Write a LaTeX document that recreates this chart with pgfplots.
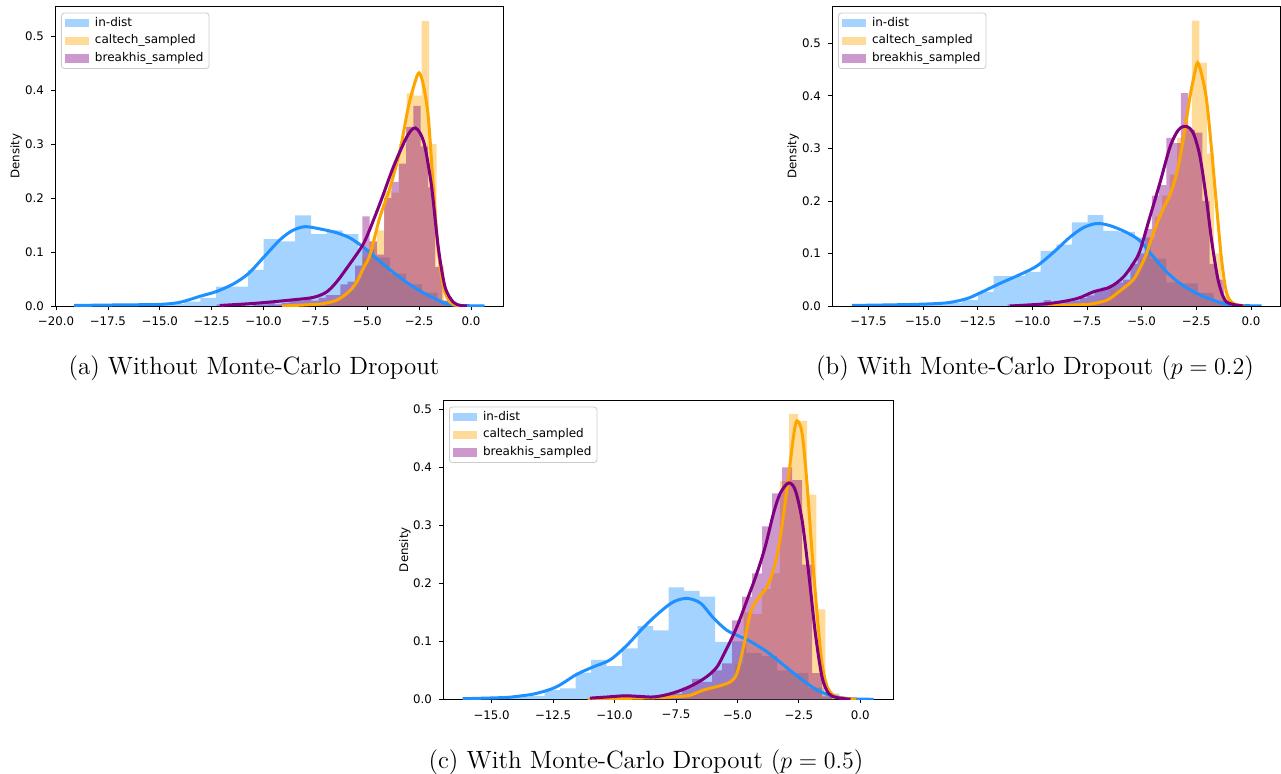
\documentclass[border=0pt]{standalone}
\usepackage{fontspec}
\usepackage{pgfplots}
\pgfplotsset{compat=1.18}
\newfontfamily\dejavu{DejaVu Sans}
\definecolor{dblue}{RGB}{30,144,255}
\definecolor{orng}{RGB}{255,165,0}
\definecolor{purp}{RGB}{128,0,128}
\newcommand{\mplfont}{\dejavu\fontsize{5.9}{7}\selectfont}
\newcommand{\legfont}{\dejavu\fontsize{6.0}{7}\selectfont}
\newcommand{\capfont}{\fontsize{12.5}{14}\selectfont}

\pgfplotsset{
  hist/.style={ybar interval, fill=#1, draw=none, fill opacity=0.4,
    legend image code/.code={\fill[#1, fill opacity=0.4, sharp corners] (0pt,-2.1pt) rectangle (12pt,2.1pt);
      \path (14pt,0pt);}},
  kde/.style={color=#1, line width=1.5pt, smooth, mark=none, forget plot},
  distaxis/.style={
    scale only axis, anchor=north west, ymin=0,
    axis line style={line width=0.4pt},
    tick align=outside, tick pos=left, major tick length=2pt,
    every tick/.style={black, line width=0.4pt},
    ytick={0,0.1,0.2,0.3,0.4,0.5},
    yticklabels={0.0,0.1,0.2,0.3,0.4,0.5},
    tick label style={font=\mplfont},
    ylabel={Density}, ylabel style={font=\mplfont, anchor=center},
    legend cell align=left,
    legend style={at={(0,1)}, anchor=north west, xshift=3pt, yshift=-3.3pt,
      draw=black!20, rounded corners=1.5pt, fill=white, font=\legfont,
      inner xsep=2pt, inner ysep=1.2pt, row sep=1.2pt,
      nodes={inner sep=0.8pt}},
  },
}

\begin{document}
\begin{tikzpicture}

% ---- (a) without MC dropout ----
\begin{axis}[distaxis, at={(27.5pt,-3pt)}, width=224pt, height=150pt,
  xmin=-20.05, xmax=1.54, ymax=0.556,
  xtick={-20,-17.5,-15,-12.5,-10,-7.5,-5,-2.5,0},
  xticklabels={−20.0,−17.5,−15.0,−12.5,−10.0,−7.5,−5.0,−2.5,0.0},
  ylabel style={at={(axis description cs:-0.087,0.5)}}]
\addplot[hist=dblue] coordinates {
  (-19.15,0.001) (-18.39,0) (-17.625,0.001) (-16.86,0.001) (-16.10,0.001)
  (-15.34,0.002) (-14.575,0.004) (-13.81,0.008) (-13.05,0.015) (-12.29,0.036)
  (-11.525,0.036) (-10.76,0.067) (-10.0,0.124) (-9.24,0.12) (-8.475,0.168)
  (-7.71,0.133) (-6.95,0.14) (-6.19,0.133) (-5.425,0.105) (-4.66,0.09)
  (-3.90,0.06) (-3.14,0.04) (-2.375,0.025) (-1.61,0.01) (-0.85,0.003)
  (-0.09,0.002) (0.675,0)};
\addlegendentry{in-dist}
\addplot[hist=orng] coordinates {
  (-9.22,0.003) (-8.86,0) (-8.50,0) (-8.14,0.003) (-7.78,0.003) (-7.42,0)
  (-7.06,0.006) (-6.70,0.01) (-6.34,0.02) (-5.98,0.03) (-5.62,0.05)
  (-5.26,0.09) (-4.90,0.12) (-4.54,0.14) (-4.18,0.213) (-3.82,0.21)
  (-3.46,0.30) (-3.10,0.394) (-2.74,0.39) (-2.38,0.528) (-2.02,0.30)
  (-1.66,0.075) (-1.30,0.005) (-0.94,0)};
\addlegendentry{caltech\_sampled}
\addplot[hist=purp] coordinates {
  (-12.26,0.003) (-11.909,0) (-11.558,0) (-11.207,0.003) (-10.856,0)
  (-10.505,0.003) (-10.154,0.003) (-9.803,0.006) (-9.452,0.003) (-9.101,0.006)
  (-8.75,0.01) (-8.399,0.01) (-8.048,0.015) (-7.697,0.01) (-7.346,0.015)
  (-6.995,0.02) (-6.644,0.02) (-6.293,0.04) (-5.942,0.045) (-5.591,0.075)
  (-5.24,0.166) (-4.889,0.12) (-4.538,0.095) (-4.187,0.20) (-3.836,0.23)
  (-3.485,0.264) (-3.134,0.332) (-2.783,0.371) (-2.432,0.296) (-2.081,0.22)
  (-1.73,0.072) (-1.379,0.01) (-1.028,0.002) (-0.677,0)};
\addlegendentry{breakhis\_sampled}
\addplot[kde=dblue] coordinates {
  (-19.13,0.001) (-17,0.002) (-14.99,0.003) (-14.02,0.007) (-13.06,0.018)
  (-12.26,0.027) (-11.45,0.041) (-10.73,0.06) (-10.0,0.09) (-9.2,0.123)
  (-8.6,0.14) (-8.0,0.147) (-7.3,0.143) (-6.5,0.136) (-5.83,0.126)
  (-5.19,0.109) (-4.55,0.088) (-3.9,0.067) (-3.18,0.046) (-2.46,0.028)
  (-1.82,0.015) (-1.17,0.004) (-0.53,0.001) (0.64,0)};
\addplot[kde=orng] coordinates {
  (-9.1,0) (-8.0,0.002) (-7.2,0.004) (-6.6,0.009) (-6.2,0.017) (-5.8,0.03)
  (-5.5,0.045) (-5.19,0.07) (-4.87,0.095) (-4.39,0.165) (-3.9,0.22)
  (-3.42,0.289) (-3.02,0.369) (-2.7,0.415) (-2.5,0.432) (-2.3,0.41)
  (-2.06,0.35) (-1.82,0.221) (-1.58,0.103) (-1.33,0.035) (-1.01,0.007)
  (-0.7,0.001) (-0.5,0)};
\addplot[kde=purp] coordinates {
  (-12.1,0.001) (-10.4,0.005) (-8.7,0.011) (-7.6,0.016) (-6.96,0.026)
  (-6.47,0.045) (-5.99,0.07) (-5.35,0.105) (-5.03,0.128) (-4.39,0.19)
  (-3.74,0.258) (-3.18,0.307) (-2.9,0.325) (-2.68,0.33) (-2.45,0.32)
  (-2.22,0.295) (-1.9,0.221) (-1.58,0.109) (-1.25,0.035) (-0.85,0.007)
  (-0.5,0.001) (-0.2,0)};
\end{axis}

% ---- (b) MC dropout p=0.2 ----
\begin{axis}[distaxis, at={(416pt,-3pt)}, width=224pt, height=150pt,
  xmin=-19.17, xmax=1.33, ymax=0.571,
  xtick={-17.5,-15,-12.5,-10,-7.5,-5,-2.5,0},
  xticklabels={−17.5,−15.0,−12.5,−10.0,−7.5,−5.0,−2.5,0.0},
  ylabel style={at={(axis description cs:-0.087,0.5)}}]
\addplot[hist=dblue] coordinates {
  (-18.26,0.001) (-17.54,0.001) (-16.82,0.001) (-16.10,0.001) (-15.38,0.002)
  (-14.66,0.003) (-13.94,0.006) (-13.22,0.011) (-12.50,0.027) (-11.78,0.057)
  (-11.06,0.057) (-10.34,0.065) (-9.62,0.105) (-8.90,0.117) (-8.19,0.159)
  (-7.47,0.173) (-6.75,0.143) (-6.03,0.141) (-5.31,0.13) (-4.59,0.09)
  (-3.87,0.045) (-3.15,0.043) (-2.43,0.025) (-1.71,0.01) (-0.99,0.002)
  (-0.27,0.001) (0.45,0)};
\addlegendentry{in-dist}
\addplot[hist=orng] coordinates {
  (-9.50,0.003) (-9.16,0) (-8.82,0) (-8.48,0.003) (-8.14,0) (-7.80,0.003)
  (-7.46,0.004) (-7.12,0.008) (-6.78,0.015) (-6.44,0.03) (-6.10,0.035)
  (-5.76,0.045) (-5.42,0.06) (-5.08,0.09) (-4.74,0.13) (-4.40,0.17)
  (-4.06,0.21) (-3.72,0.25) (-3.38,0.32) (-3.04,0.34) (-2.70,0.543)
  (-2.36,0.463) (-2.02,0.29) (-1.68,0.10) (-1.34,0.02) (-1.0,0)};
\addlegendentry{caltech\_sampled}
\addplot[hist=purp] coordinates {
  (-11.13,0.003) (-10.80,0) (-10.47,0.003) (-10.14,0) (-9.81,0.003)
  (-9.48,0.011) (-9.15,0.005) (-8.82,0.005) (-8.49,0.008) (-8.16,0.01)
  (-7.83,0.015) (-7.50,0.02) (-7.17,0.03) (-6.84,0.035) (-6.51,0.04)
  (-6.18,0.045) (-5.85,0.05) (-5.52,0.08) (-5.19,0.10) (-4.86,0.147)
  (-4.53,0.21) (-4.20,0.23) (-3.87,0.32) (-3.54,0.31) (-3.21,0.405)
  (-2.88,0.335) (-2.55,0.33) (-2.22,0.2) (-1.89,0.08) (-1.56,0.05)
  (-1.23,0.01) (-0.90,0)};
\addlegendentry{breakhis\_sampled}
\addplot[kde=dblue] coordinates {
  (-18.26,0.001) (-15.44,0.003) (-13.92,0.006) (-13.0,0.014) (-12.39,0.025)
  (-11.48,0.043) (-10.56,0.06) (-9.8,0.076) (-9.04,0.102) (-8.28,0.131)
  (-7.67,0.149) (-7.06,0.157) (-6.45,0.153) (-5.69,0.14) (-5.08,0.124)
  (-4.47,0.094) (-3.86,0.065) (-3.25,0.043) (-2.48,0.024) (-1.72,0.011)
  (-1.11,0.003) (-0.5,0.001) (0.49,0)};
\addplot[kde=orng] coordinates {
  (-9.3,0.001) (-7.5,0.003) (-6.6,0.011) (-6.14,0.024) (-5.68,0.039)
  (-5.38,0.05) (-5.08,0.072) (-4.77,0.1) (-4.62,0.12) (-4.16,0.172)
  (-3.7,0.212) (-3.4,0.252) (-3.1,0.316) (-2.79,0.398) (-2.59,0.44)
  (-2.44,0.463) (-2.25,0.44) (-2.03,0.392) (-1.8,0.297) (-1.57,0.189)
  (-1.34,0.087) (-1.11,0.024) (-0.81,0.005) (-0.3,0)};
\addplot[kde=purp] coordinates {
  (-11.02,0) (-9.19,0.005) (-7.97,0.014) (-7.21,0.027) (-6.45,0.036)
  (-5.84,0.055) (-5.38,0.081) (-5.08,0.105) (-4.62,0.17) (-4.16,0.235)
  (-3.7,0.303) (-3.32,0.335) (-2.97,0.342) (-2.64,0.329) (-2.33,0.284)
  (-2.03,0.201) (-1.8,0.125) (-1.5,0.049) (-1.19,0.011) (-0.81,0.003)
  (-0.35,0)};
\end{axis}

% ---- (c) MC dropout p=0.5 ----
\begin{axis}[distaxis, at={(221.5pt,-200pt)}, width=225pt, height=149.65pt,
  xmin=-16.98, xmax=1.33, ymax=0.516,
  xtick={-15,-12.5,-10,-7.5,-5,-2.5,0},
  xticklabels={−15.0,−12.5,−10.0,−7.5,−5.0,−2.5,0.0},
  ylabel style={at={(axis description cs:-0.0845,0.5)}}]
\addplot[hist=dblue] coordinates {
  (-16.0,0.001) (-15.369,0.001) (-14.738,0.002) (-14.107,0.004) (-13.476,0.006)
  (-12.845,0.016) (-12.214,0.019) (-11.583,0.046) (-10.952,0.068) (-10.321,0.057)
  (-9.69,0.088) (-9.059,0.126) (-8.428,0.119) (-7.797,0.193) (-7.166,0.187)
  (-6.535,0.177) (-5.904,0.099) (-5.273,0.10) (-4.642,0.08) (-4.011,0.075)
  (-3.38,0.05) (-2.749,0.045) (-2.118,0.02) (-1.487,0.01) (-0.856,0.002)
  (-0.225,0.001) (0.406,0)};
\addlegendentry{in-dist}
\addplot[hist=orng] coordinates {
  (-9.19,0.003) (-8.82,0) (-8.45,0) (-8.08,0.003) (-7.71,0) (-7.34,0.003)
  (-6.97,0.01) (-6.60,0.015) (-6.23,0.02) (-5.86,0.025) (-5.49,0.03)
  (-5.12,0.06) (-4.75,0.15) (-4.38,0.147) (-4.01,0.19) (-3.64,0.217)
  (-3.27,0.376) (-2.90,0.492) (-2.53,0.48) (-2.16,0.353) (-1.79,0.155)
  (-1.42,0.01) (-1.05,0)};
\addlegendentry{caltech\_sampled}
\addplot[hist=purp] coordinates {
  (-10.918,0.002) (-10.511,0.003) (-10.104,0.006) (-9.697,0.008) (-9.29,0.004)
  (-8.883,0.004) (-8.476,0.005) (-8.069,0.008) (-7.662,0.01) (-7.255,0.02)
  (-6.848,0.035) (-6.441,0.03) (-6.034,0.05) (-5.627,0.062) (-5.22,0.136)
  (-4.813,0.177) (-4.406,0.217) (-3.999,0.298) (-3.592,0.355) (-3.185,0.40)
  (-2.778,0.378) (-2.371,0.232) (-1.964,0.045) (-1.557,0.005) (-1.15,0)};
\addlegendentry{breakhis\_sampled}
\addplot[kde=dblue] coordinates {
  (-16.18,0.001) (-14.5,0.003) (-13.98,0.005) (-13.3,0.009) (-12.62,0.017)
  (-12.21,0.025) (-11.54,0.043) (-10.86,0.056) (-10.18,0.068) (-9.5,0.093)
  (-8.82,0.124) (-8.14,0.151) (-7.6,0.168) (-7.06,0.174) (-6.51,0.166)
  (-5.97,0.14) (-5.43,0.119) (-4.89,0.108) (-4.48,0.10) (-3.80,0.082)
  (-3.12,0.059) (-2.44,0.036) (-1.76,0.016) (-1.09,0.005) (-0.41,0.001)
  (0.54,0)};
\addplot[kde=orng] coordinates {
  (-11.1,0) (-9.09,0.002) (-8.14,0.003) (-7.33,0.005) (-6.92,0.007)
  (-6.38,0.016) (-5.83,0.022) (-5.29,0.030) (-5.02,0.045) (-4.75,0.091)
  (-4.48,0.148) (-4.21,0.171) (-3.80,0.194) (-3.46,0.234) (-3.19,0.298)
  (-2.92,0.384) (-2.72,0.453) (-2.58,0.48) (-2.37,0.459) (-2.17,0.372)
  (-1.97,0.257) (-1.76,0.148) (-1.56,0.062) (-1.35,0.022) (-1.09,0.007)
  (-0.7,0.002) (-0.16,0)};
\addplot[kde=purp] coordinates {
  (-11.0,0.002) (-10.3,0.004) (-9.6,0.006) (-9.0,0.005) (-8.42,0.004)
  (-7.87,0.008) (-7.33,0.015) (-6.79,0.025) (-6.25,0.039) (-5.83,0.056)
  (-5.43,0.088) (-5.02,0.125) (-4.61,0.171) (-4.21,0.217) (-3.87,0.263)
  (-3.53,0.321) (-3.26,0.355) (-2.92,0.373) (-2.65,0.361) (-2.37,0.309)
  (-2.10,0.217) (-1.83,0.114) (-1.56,0.039) (-1.29,0.010) (-0.95,0.003)
  (-0.4,0)};
\end{axis}

% ---- captions ----
\node[font=\capfont] at (127pt,-184pt) {(a) Without Monte-Carlo Dropout};
\node[font=\capfont] at (517.5pt,-184pt) {(b) With Monte-Carlo Dropout ($p = 0.2$)};
\node[font=\capfont] at (323pt,-381pt) {(c) With Monte-Carlo Dropout ($p = 0.5$)};

\pgfresetboundingbox
\path[use as bounding box] (0,0) rectangle (640.5pt,-387pt);
\end{tikzpicture}
\end{document}
